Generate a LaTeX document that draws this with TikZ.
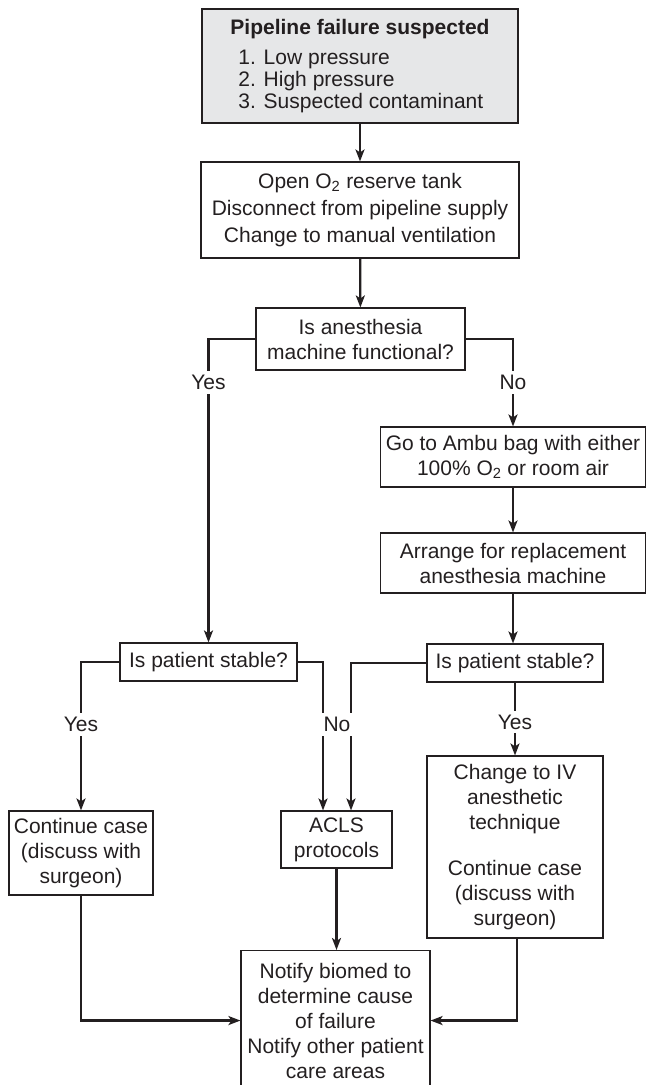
\documentclass[tikz,border=0pt]{standalone}
\usepackage{fontspec}
\setmainfont{Liberation Sans}
\usetikzlibrary{arrows.meta, positioning}

\definecolor{ink}{HTML}{231F20}
\definecolor{shade}{HTML}{E6E7E8}

\begin{document}
\begin{tikzpicture}[
  x=1pt, y=-1pt,
  font=\fontsize{21}{25}\selectfont,
  text=ink,
  stepNode/.style={rectangle, draw=ink, line width=1.1pt, align=center, inner sep=2pt},
  flowArrow/.style={draw=ink, line width=2.2pt, -{Stealth[length=12pt, width=9pt, inset=3pt]}},
  answerLabel/.style={fill=white, inner xsep=3pt, inner ysep=4pt}
]
  \useasboundingbox (0,0) rectangle (647,1085);
  \clip (0,0) rectangle (647,1085);

  % boxes
  \node [stepNode, fill=shade, align=left, minimum width=316pt, minimum height=114pt,
         font=\fontsize{21}{22}\selectfont] (suspect) at (360,66)
        {\textbf{Pipeline failure suspected}\\[8pt]\hspace*{8pt}1. Low pressure\\\hspace*{8pt}2. High pressure\\\hspace*{8pt}3. Suspected contaminant};
  \node [stepNode, minimum width=318pt, minimum height=96pt,
         font=\fontsize{21}{27}\selectfont] (reserve) at (360,210)
        {Open O\textsubscript{2} reserve tank\\Disconnect from pipeline supply\\Change to manual ventilation};
  \node [stepNode, minimum width=209pt, minimum height=62pt] (working) at (360.5,339) {Is anesthesia\\machine functional?};
  \node [stepNode, minimum width=265pt, minimum height=60pt] (ambu) at (513,457) {Go to Ambu bag with either\\100\% O\textsubscript{2} or room air};
  \node [stepNode, minimum width=265pt, minimum height=60pt] (replace) at (513,563) {Arrange for replacement\\anesthesia machine};
  \node [stepNode, minimum width=177pt, minimum height=38pt] (stableA) at (208.5,662) {Is patient stable?};
  \node [stepNode, minimum width=176pt, minimum height=38pt] (stableB) at (515,663) {Is patient stable?};
  \node [stepNode, minimum width=144pt, minimum height=84pt] (goOn) at (81,853) {Continue case\\(discuss with\\surgeon)};
  \node [stepNode, minimum width=111pt, minimum height=57pt] (acls) at (336.5,839.5) {ACLS\\protocols};
  \node [stepNode, minimum width=176pt, minimum height=182pt] (ivCase) at (515,847)
        {Change to IV\\anesthetic\\technique\\[21pt]Continue case\\(discuss with\\surgeon)};
  \node [stepNode, anchor=north, minimum width=189pt, minimum height=140pt] (notify) at (335.5,950)
        {Notify biomed to\\determine cause\\of failure\\Notify other patient\\care areas};

  % connectors
  \draw [flowArrow] (suspect) -- (reserve);
  \draw [flowArrow] (reserve) -- (working);
  \draw [flowArrow] (working.west) -| node [answerLabel, pos=0.572] {Yes} (stableA.north);
  \draw [flowArrow] (working.east) -| node [answerLabel, pos=0.75] {No} (ambu.north);
  \draw [flowArrow] (ambu) -- (replace);
  \draw [flowArrow] (replace.south) -- (replace.south |- stableB.north);
  \draw [flowArrow] (stableA.west) -| node [answerLabel, pos=0.711] {Yes} (goOn.north);
  \draw [flowArrow] (stableB.west) -| ([xshift=14.5pt]acls.north);
  \draw [flowArrow] (stableA.east) -| node [answerLabel, pos=0.711, xshift=14pt] {No} ([xshift=-13.5pt]acls.north);
  \draw [flowArrow] (stableB.south) -- node [answerLabel, pos=0.54] {Yes} (stableB.south |- ivCase.north);
  \draw [flowArrow] (acls) -- (acls |- notify.north);
  \draw [flowArrow] (goOn.south) |- (notify.west);
  \draw [flowArrow] ([xshift=2pt]ivCase.south) |- (notify.east);
\end{tikzpicture}
\end{document}
